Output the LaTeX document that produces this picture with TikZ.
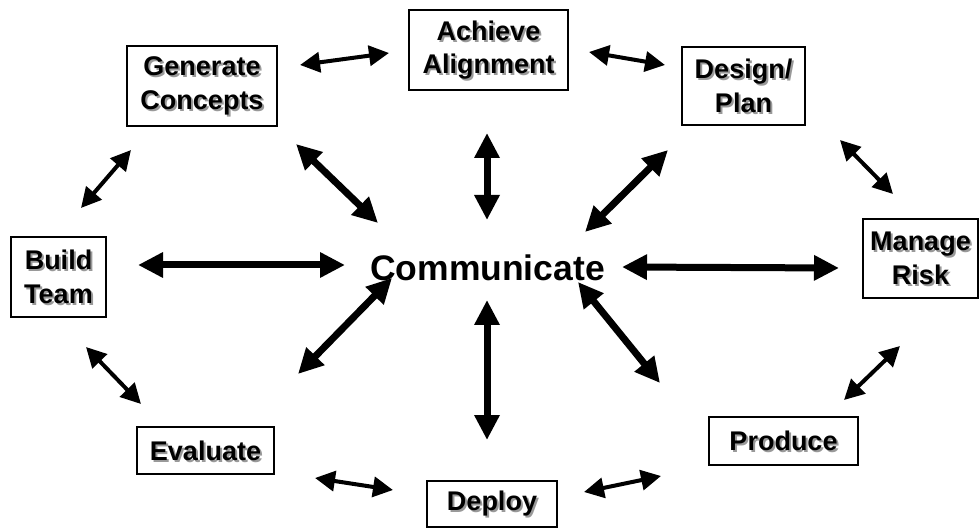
\documentclass[tikz,border=0pt]{standalone}
\usepackage{fontspec}
\setmainfont{Liberation Sans}
\usetikzlibrary{arrows.meta}
\newcommand\pbox[6]{%
  \node[shadowtxt] at (#2+2,#3+2) {#6};
  \node[box,minimum width=#4pt,minimum height=#5pt] (#1) at (#2,#3) {#6};}
\begin{document}
\begin{tikzpicture}[x=1pt,y=-1pt,
  boxfont/.style={font=\bfseries\fontsize{27}{33.5}\selectfont},
  box/.style={draw,line width=2pt,inner sep=0pt,outer sep=0pt,align=center,boxfont},
  shadowtxt/.style={inner sep=0pt,align=center,text=black!40,boxfont},
  thinarrow/.style={line width=4pt,{Triangle[length=20pt,width=20pt]}-{Triangle[length=20pt,width=20pt]}},
  thickarrow/.style={line width=7pt,{Triangle[length=25pt,width=24pt]}-{Triangle[length=25pt,width=24pt]}}]
\useasboundingbox (0,0) rectangle (980,529);
\fill[white] (0,0) rectangle (980,529);
% boxes
\pbox{ach}{488.5}{50}{159}{80}{Achieve\\Alignment}
\pbox{gen}{202}{86}{150}{80}{Generate\\Concepts}
\pbox{des}{743.5}{86}{123}{78}{Design/\\Plan}
\pbox{man}{920.5}{258.5}{115}{79}{Manage\\Risk}
\pbox{bld}{58.5}{277}{95}{80}{Build\\Team}
\pbox{eva}{205.5}{450.5}{137}{47}{Evaluate}
\pbox{dep}{492}{504}{130}{46}{Deploy}
\pbox{pro}{783.5}{441}{149}{48}{Produce}
\node[font=\bfseries\fontsize{35.5}{40}\selectfont,inner sep=0pt] (com) at (487.5,268) {Communicate};
% ring arrow end points
\coordinate (ga1) at (300,65);  \coordinate (ga2) at (389,53);
\coordinate (ad1) at (589,52);  \coordinate (ad2) at (665,65);
\coordinate (dm1) at (840,140); \coordinate (dm2) at (893,194);
\coordinate (mp1) at (900,346); \coordinate (mp2) at (844,400);
\coordinate (pd1) at (661,476); \coordinate (pd2) at (584,492);
\coordinate (de1) at (393,490); \coordinate (de2) at (315,478);
\coordinate (eb1) at (141,404); \coordinate (eb2) at (86,347);
\coordinate (bg1) at (81,208);  \coordinate (bg2) at (131,150);
\draw[thinarrow] (ga1) -- (ga2);
\draw[thinarrow] (ad1) -- (ad2);
\draw[thinarrow] (dm1) -- (dm2);
\draw[thinarrow] (mp1) -- (mp2);
\draw[thinarrow] (pd1) -- (pd2);
\draw[thinarrow] (de1) -- (de2);
\draw[thinarrow] (eb1) -- (eb2);
\draw[thinarrow] (bg1) -- (bg2);
% spokes
\coordinate (sg1) at (296,144); \coordinate (sg2) at (378,223);
\coordinate (sa1) at (487,133); \coordinate (sa2) at (487,220);
\coordinate (sd1) at (668,150); \coordinate (sd2) at (585,232);
\coordinate (sb1) at (138,265); \coordinate (sb2) at (345,265);
\coordinate (sm1) at (622,267); \coordinate (sm2) at (839,268);
\coordinate (se1) at (392,278); \coordinate (se2) at (298,374);
\coordinate (sp1) at (487,300); \coordinate (sp2) at (487,440);
\coordinate (sr1) at (578,282); \coordinate (sr2) at (660,383);
\draw[thickarrow] (sg1) -- (sg2);
\draw[thickarrow] (sa1) -- (sa2);
\draw[thickarrow] (sd1) -- (sd2);
\draw[thickarrow] (sb1) -- (sb2);
\draw[thickarrow] (sm1) -- (sm2);
\draw[thickarrow] (se1) -- (se2);
\draw[thickarrow] (sp1) -- (sp2);
\draw[thickarrow] (sr1) -- (sr2);
\end{tikzpicture}
\end{document}
